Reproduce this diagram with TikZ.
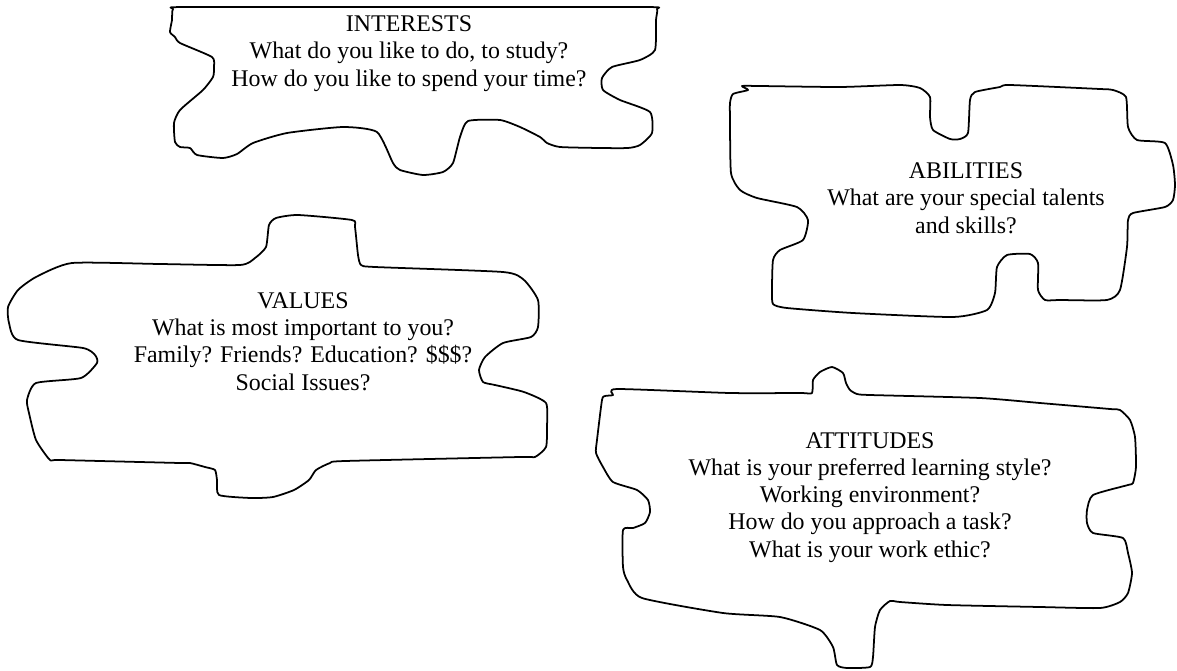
\documentclass[tikz,border=0pt]{standalone}
\usepackage{fontspec}
\setmainfont{Liberation Serif}

\tikzset{
    piece/.style={line width=1pt, line join=round},
    piecetext/.style={align=center, anchor=base, inner sep=0pt,
        font=\fontsize{13.6}{15.4}\selectfont}
}

\begin{document}
\begin{tikzpicture}[x=0.02cm, y=-0.02cm]
        \useasboundingbox (0, 0) rectangle (1177, 670);

        % Piece # 1 (top)
        \draw[piece] plot[smooth cycle, tension=0.35] coordinates {
            (173,9) (185,7) (420,7) (645,7) (657,9) (656,20) (655,50)
            (640,60) (612,67) (602,78) (603,90) (620,100) (650,112)
            (652,133) (640,145) (628,148) (600,148) (560,147) (547,143)
            (540,137) (520,127) (500,120) (468,121) (460,137) (453,163)
            (443,172) (423,175) (400,170) (393,163) (377,132) (343,127)
            (287,133) (253,143) (237,154) (223,158) (197,155) (190,148)
            (180,147) (175,142) (174,123) (180,110) (203,90) (213,77)
            (214,67) (212,57) (180,43) (175,37) (170,32) (172,20)};
        % base = last line
        \node[piecetext] (interests) at (409, 86)
            {INTERESTS\\What do you like to do, to study?\\How do you like to spend your time?};

        % Piece # 2 (right)
        \draw[piece] plot[smooth cycle, tension=0.35] coordinates {
            (742,86) (760,86) (840,87) (900,85) (920,88) (930,97)
            (930,117) (933,130) (950,139) (960,139) (968,133) (970,100)
            (975,92) (1000,87) (1010,85) (1100,89) (1113,90) (1126,97)
            (1128,127) (1137,140) (1165,143) (1173,165) (1175,185)
            (1173,200) (1165,207) (1133,213) (1128,220) (1127,247)
            (1120,290) (1107,300) (1060,300) (1045,300) (1038,290)
            (1038,263) (1030,254) (1007,255) (997,267) (995,293) (987,310)
            (953,317) (853,313) (787,308) (773,304) (772,290) (773,260)
            (780,250) (803,240) (808,220) (797,207) (757,198) (740,190)
            (731,173) (730,120) (730,103) (733,94) (748,90)};
        \node[piecetext] (abilities) at (966, 233)
            {ABILITIES\\What are your special talents\\and skills?};

        % Piece # 3 (left)
        \draw[piece] plot[smooth cycle, tension=0.35] coordinates {
            (72,263) (160,264) (240,265) (255,258) (266,247) (269,225)
            (276,218) (298,215) (352,220) (355,227) (358,255) (361,265)
            (375,267) (503,272) (524,280) (538,300) (538,327) (531,337)
            (503,343) (485,357) (479,370) (483,382) (495,385) (524,392)
            (546,403) (547,427) (546,447) (535,457) (520,457) (345,461)
            (330,463) (316,470) (309,480) (294,490) (273,497) (251,498)
            (219,495) (217,480) (215,470) (205,467) (190,463) (180,463)
            (60,460) (50,460) (36,440) (29,413) (27,400) (36,383)
            (81,378) (97,363) (95,355) (83,348) (18,340) (9,323)
            (8,307) (18,290) (36,277)};
        \node[piecetext] (values) at (303, 390)
            {VALUES\\What is most important to you?\\Family? Friends? Education? \$\$\$?\\Social Issues?};

        % Piece # 4 (bottom)
        \draw[piece] plot[smooth cycle, tension=0.35] coordinates {
            (617,389) (730,393) (800,393) (812,393) (813,380) (820,372)
            (832,367) (843,373) (846,383) (850,390) (857,394) (870,395)
            (980,398) (1040,403) (1110,409) (1120,410) (1130,420)
            (1135,437) (1136,467) (1133,483) (1128,485) (1093,495)
            (1087,510) (1087,523) (1093,533) (1123,538) (1128,553)
            (1132,573) (1128,593) (1120,602) (1100,608) (1040,607)
            (947,605) (900,602) (890,601) (880,610) (875,627) (873,657)
            (870,667) (847,668) (837,665) (833,647) (820,630) (780,617)
            (723,613) (642,598) (627,580) (623,567) (623,530) (633,528)
            (645,523) (650,512) (648,500) (637,490) (613,482) (603,467)
            (596,453) (597,440) (602,400) (605,396) (613,395)};
        \node[piecetext] (attitudes) at (870, 557)
            {ATTITUDES\\What is your preferred learning style?\\Working environment?\\How do you approach a task?\\What is your work ethic?};

    \end{tikzpicture}
\end{document}
